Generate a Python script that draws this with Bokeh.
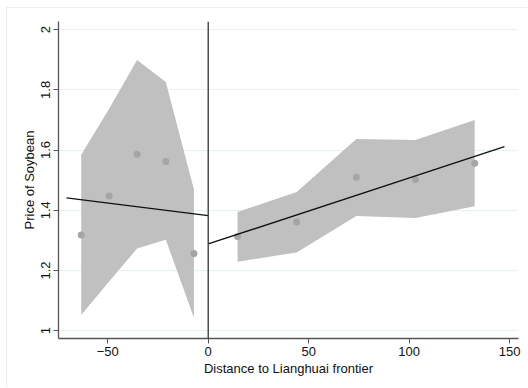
from bokeh.plotting import figure
from bokeh.models import Span, FixedTicker, Range1d
from bokeh.embed import file_html
from bokeh.resources import INLINE

# Binned means of soybean price by distance to the Lianghuai frontier
left_x = [-63.2, -49.3, -35.4, -21.1, -7.1]
left_mean = [1.318, 1.447, 1.586, 1.562, 1.256]
left_hi = [1.584, 1.737, 1.899, 1.826, 1.469]
left_lo = [1.052, 1.163, 1.273, 1.302, 1.043]

right_x = [14.6, 44.0, 73.7, 103.1, 132.6]
right_mean = [1.313, 1.361, 1.510, 1.502, 1.556]
right_hi = [1.394, 1.461, 1.637, 1.633, 1.700]
right_lo = [1.229, 1.260, 1.381, 1.374, 1.413]

# Linear fits on each side of the frontier
fit_left_x = [-70.5, 0.0]
fit_left_y = [1.441, 1.382]
fit_right_x = [0.0, 147.4]
fit_right_y = [1.288, 1.611]

x_ticks = [-50, 0, 50, 100, 150]
y_ticks = [1.0, 1.2, 1.4, 1.6, 1.8, 2.0]
y_tick_labels = {1.0: "1", 1.2: "1.2", 1.4: "1.4", 1.6: "1.6", 1.8: "1.8", 2.0: "2"}

p = figure(width=521, height=380, output_backend="svg", toolbar_location=None,
           x_range=Range1d(-74.5, 154.4), y_range=Range1d(0.974, 2.027),
           min_border_left=51, min_border_right=10, min_border_top=13,
           min_border_bottom=50)
p.margin = (7, 0, 0, 6)
p.styles = {"border-left": "1px solid #e6eeee", "border-top": "1px solid #e6eeee"}
p.outline_line_color = None
p.background_fill_color = "white"
p.border_fill_color = "white"

band_color = "#c0c0c0"
dot_color = "#a5a5a5"

p.varea(x=left_x, y1=left_lo, y2=left_hi, fill_color=band_color, fill_alpha=1.0)
p.varea(x=right_x, y1=right_lo, y2=right_hi, fill_color=band_color, fill_alpha=1.0)

p.scatter(left_x, left_mean, size=7, fill_color=dot_color, line_color=None)
p.scatter(right_x, right_mean, size=7, fill_color=dot_color, line_color=None)

p.line(fit_left_x, fit_left_y, line_color="#111111", line_width=1.3)
p.line(fit_right_x, fit_right_y, line_color="#111111", line_width=1.3)

p.add_layout(Span(location=0, dimension="height", line_color="#333333", line_width=1.3))

font = "Liberation Sans"
p.xaxis.ticker = FixedTicker(ticks=x_ticks)
p.yaxis.ticker = FixedTicker(ticks=y_ticks)
p.yaxis.major_label_overrides = y_tick_labels
p.yaxis.major_label_orientation = "vertical"
p.xaxis.axis_label = "Distance to Lianghuai frontier"
p.yaxis.axis_label = "Price of Soybean"

for ax in (p.xaxis, p.yaxis):
    ax.axis_line_color = "#555555"
    ax.axis_line_width = 1.3
    ax.major_tick_line_color = "#555555"
    ax.major_tick_out = 5
    ax.major_tick_in = 0
    ax.minor_tick_line_color = None
    ax.major_label_text_font = font
    ax.major_label_text_font_size = "13px"
    ax.major_label_text_color = "#111111"
    ax.axis_label_text_font = font
    ax.axis_label_text_font_size = "13px"
    ax.axis_label_text_font_style = "normal"
    ax.axis_label_text_color = "#111111"
    ax.major_label_standoff = 3
    ax.axis_label_standoff = 2

p.xgrid.grid_line_color = None
p.ygrid.grid_line_color = "#e8f1f1"
p.ygrid.grid_line_width = 1

open("out.html", "w").write(file_html(p, INLINE))
